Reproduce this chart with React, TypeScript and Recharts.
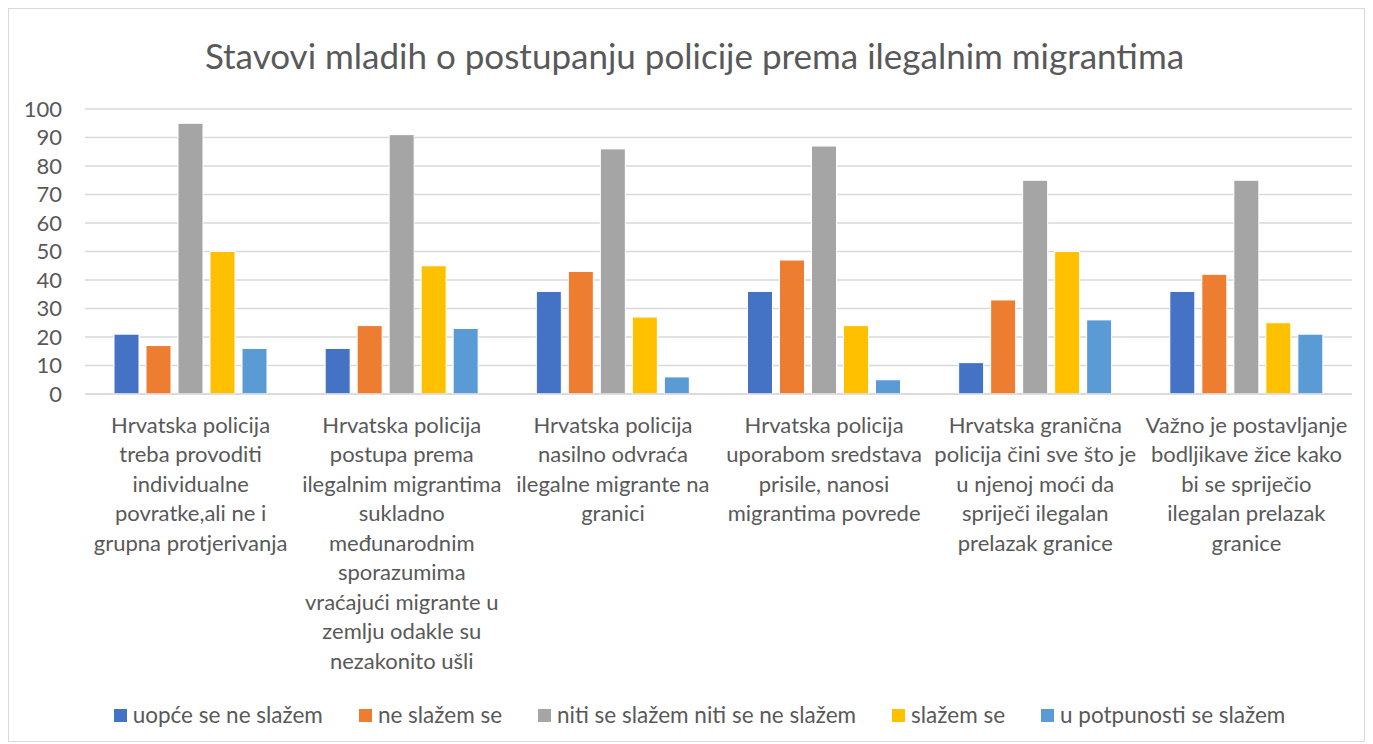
import React from "react";
import { BarChart, Bar, XAxis, YAxis, CartesianGrid } from "recharts";

const title = "Stavovi mladih o postupanju policije prema ilegalnim migrantima";

const categories: string[][] = [
  ["Hrvatska policija", "treba provoditi", "individualne", "povratke,ali ne i", "grupna protjerivanja"],
  ["Hrvatska policija", "postupa prema", "ilegalnim migrantima", "sukladno", "međunarodnim", "sporazumima", "vraćajući migrante u", "zemlju odakle su", "nezakonito ušli"],
  ["Hrvatska policija", "nasilno odvraća", "ilegalne migrante na", "granici"],
  ["Hrvatska policija", "uporabom sredstava", "prisile, nanosi", "migrantima povrede"],
  ["Hrvatska granična", "policija čini sve što je", "u njenoj moći da", "spriječi ilegalan", "prelazak granice"],
  ["Važno je postavljanje", "bodljikave žice kako", "bi se spriječio", "ilegalan prelazak", "granice"],
];

const seriesNames = [
  "uopće se ne slažem",
  "ne slažem se",
  "niti se slažem niti se ne slažem",
  "slažem se",
  "u potpunosti se slažem",
];
const seriesColors = ["#4472C4", "#ED7D31", "#A5A5A5", "#FFC000", "#5B9BD5"];

const uopceSeNeSlazem = [21, 16, 36, 36, 11, 36];
const neSlazemSe = [17, 24, 43, 47, 33, 42];
const nitiNiti = [95, 91, 86, 87, 75, 75];
const slazemSe = [50, 45, 27, 24, 50, 25];
const uPotpunosti = [16, 23, 6, 5, 26, 21];

const yTicks = [0, 10, 20, 30, 40, 50, 60, 70, 80, 90, 100];

const seriesValues = [uopceSeNeSlazem, neSlazemSe, nitiNiti, slazemSe, uPotpunosti];

const data = categories.map((lines, i) => {
  const row: Record<string, any> = { name: lines.join(" "), idx: i };
  seriesNames.forEach((s, k) => {
    row["s" + k] = seriesValues[k][i];
  });
  return row;
});

const FONT = "Lato, 'Open Sans', sans-serif";
const TEXT = "#595959";

const CatTick = (props: any) => {
  const { x, y, payload } = props;
  const idx = data.findIndex((d) => d.name === payload.value);
  const lines = idx >= 0 ? categories[idx] : [String(payload.value)];
  return (
    <g transform={`translate(${x},${y})`}>
      <text textAnchor="middle" fill={TEXT} fontSize={22} fontFamily={FONT}>
        {lines.map((l, i) => (
          <tspan key={i} x={0} y={i * 29.5} dy="0.35em">
            {l}
          </tspan>
        ))}
      </text>
    </g>
  );
};

export default function App() {
  return (
    <div
      style={{
        position: "relative",
        width: 1357,
        height: 734,
        border: "1px solid #d9d9d9",
        boxSizing: "border-box",
        background: "#fff",
        fontFamily: FONT,
      }}
    >
      <div
        style={{
          position: "absolute",
          top: 26,
          left: 8,
          width: 1355,
          textAlign: "center",
          fontSize: 35,
          lineHeight: "40px",
          color: TEXT,
        }}
      >
        {title}
      </div>
      <div style={{ position: "absolute", left: 0, top: 0 }}>
        <BarChart
          width={1355}
          height={690}
          data={data}
          margin={{ top: 100, right: 12, left: 0, bottom: 0 }}
          barGap={7}
          barSize={25}
        >
          <CartesianGrid vertical={false} stroke="#d9d9d9" strokeWidth={1.5} />
          <XAxis
            dataKey="name"
            interval={0}
            tickLine={false}
            axisLine={{ stroke: "#d9d9d9", strokeWidth: 1.5 }}
            tick={<CatTick />}
            tickSize={0}
            tickMargin={31}
            height={305}
          />
          <YAxis
            domain={[0, 100]}
            ticks={yTicks}
            interval={0}
            width={76}
            axisLine={false}
            tickLine={false}
            tickSize={0}
            tickMargin={23}
            tick={{ fill: TEXT, fontSize: 22, fontFamily: FONT }}
          />
          {seriesNames.map((s, k) => (
            <Bar
              key={s}
              dataKey={"s" + k}
              name={s}
              fill={seriesColors[k]}
              stroke="#ffffff"
              strokeWidth={1}
              isAnimationActive={false}
            />
          ))}
        </BarChart>
      </div>
      <div
        style={{
          position: "absolute",
          top: 691,
          left: 13,
          width: 1355,
          display: "flex",
          justifyContent: "center",
          alignItems: "center",
          gap: 36,
          fontSize: 22.5,
          color: TEXT,
          lineHeight: "30px",
        }}
      >
        {seriesNames.map((s, k) => (
          <div key={s} style={{ display: "flex", alignItems: "center" }}>
            <span
              style={{
                display: "inline-block",
                width: 13,
                height: 13,
                background: seriesColors[k],
                marginRight: 6,
              }}
            />
            <span>{s}</span>
          </div>
        ))}
      </div>
    </div>
  );
}
